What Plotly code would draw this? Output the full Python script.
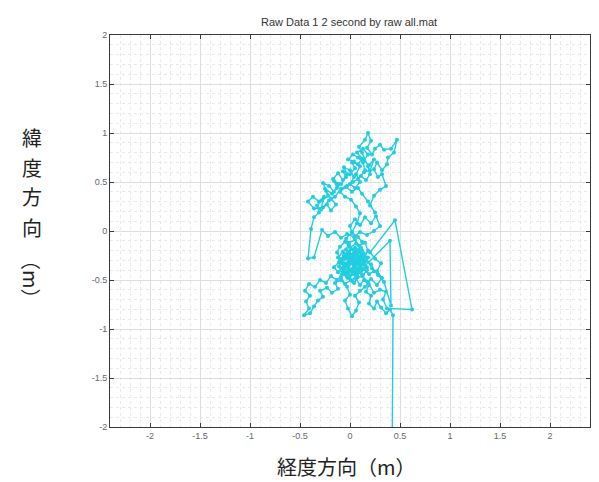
import plotly.graph_objects as go

# ---- data (metres, east / north) ----
east_start = [0.42, 0.43, 0.40, 0.36, 0.31, 0.27, 0.24, 0.19, 0.21, 0.16, 0.19, 0.14, 0.10, 0.06, 0.09, 0.03, -0.02, 0.01, -0.05, -0.09,
              -0.06, -0.01, 0.05, 0.10, 0.13, 0.07, 0.01, -0.04, -0.01, 0.05, 0.09, 0.15, 0.18, 0.13, 0.17, 0.11, 0.05, -0.01]
north_start = [-2.50, -0.86, -0.80, -0.84, -0.78, -0.72, -0.79, -0.74, -0.66, -0.62, -0.55, -0.50, -0.55, -0.49, -0.42, -0.38, -0.43, -0.50, -0.54, -0.47,
               -0.39, -0.33, -0.29, -0.33, -0.26, -0.20, -0.24, -0.19, -0.12, -0.09, -0.15, -0.12, -0.20, -0.30, -0.37, -0.41, -0.36, -0.40]

east_sw = [-0.07, -0.13, -0.19, -0.24, -0.30, -0.35, -0.41, -0.45, -0.40, -0.44, -0.41, -0.46, -0.40, -0.36, -0.32, -0.27, -0.30, -0.23, -0.18, -0.12, -0.15, -0.09]
north_sw = [-0.44, -0.50, -0.46, -0.53, -0.50, -0.57, -0.54, -0.61, -0.66, -0.72, -0.79, -0.86, -0.84, -0.77, -0.71, -0.67, -0.61, -0.58, -0.63, -0.59, -0.53, -0.50]

east_s = [-0.03, 0.00, -0.05, -0.02, 0.02, 0.06, 0.09, 0.05, 0.10, 0.15]
north_s = [-0.57, -0.65, -0.71, -0.79, -0.87, -0.81, -0.73, -0.66, -0.61, -0.57]

east_e = [0.21, 0.27, 0.32, 0.27, 0.31, 0.25, 0.20, 0.45, 0.62, 0.37, 0.33, 0.36, 0.30, 0.24]
north_e = [-0.49, -0.55, -0.48, -0.41, -0.33, -0.28, -0.22, 0.11, -0.80, -0.79, -0.70, -0.62, -0.60, -0.63]

east_c = [0.18, 0.12, 0.07, 0.02, -0.04, -0.08, -0.12, -0.07, -0.02, 0.04, 0.08, 0.14, 0.11, 0.06, 0.00, -0.05, -0.10, -0.13, -0.09, -0.03,
          0.02, 0.08, 0.04, -0.02, -0.07, -0.03, 0.03, 0.09, 0.15, 0.21, 0.24, 0.19, 0.13, 0.07, 0.02, -0.03, 0.01, 0.07, 0.12]
north_c = [-0.52, -0.46, -0.40, -0.31, -0.28, -0.33, -0.27, -0.21, -0.26, -0.22, -0.27, -0.23, -0.17, -0.13, -0.17, -0.11, -0.16, -0.22, -0.29, -0.35,
           -0.42, -0.47, -0.53, -0.48, -0.41, -0.34, -0.30, -0.35, -0.31, -0.34, -0.41, -0.44, -0.39, -0.33, -0.27, -0.23, -0.18, -0.24, -0.20]

east_c2 = [0.00, 0.05, 0.10, 0.06, 0.01, -0.04, -0.08, -0.04, 0.02, 0.07, 0.12, 0.09, 0.04, -0.01, -0.06, -0.10, -0.06, -0.01, 0.05, 0.10,
           0.14, 0.10, 0.05, 0.00, -0.05, -0.02, 0.03, 0.08, 0.13, 0.17, 0.13, 0.08, 0.03, -0.02, -0.07, -0.11, -0.08, -0.03, 0.02, 0.06]
north_c2 = [-0.30, -0.34, -0.29, -0.25, -0.29, -0.33, -0.38, -0.43, -0.39, -0.43, -0.38, -0.32, -0.36, -0.31, -0.35, -0.30, -0.24, -0.28, -0.24, -0.26,
            -0.30, -0.36, -0.40, -0.46, -0.43, -0.37, -0.33, -0.39, -0.45, -0.40, -0.34, -0.30, -0.26, -0.22, -0.28, -0.36, -0.44, -0.47, -0.51, -0.45]

east_r = [0.40, 0.41, 0.34, 0.28, 0.22, 0.16, 0.10, 0.05, -0.01, -0.06, -0.11, -0.16, -0.12, -0.06, -0.01, 0.04, 0.09, 0.12, 0.08, 0.02]
north_r = [-0.10, -0.76, -0.52, -0.45, -0.38, -0.27, -0.22, -0.17, -0.21, -0.26, -0.32, -0.37, -0.42, -0.37, -0.29, -0.25, -0.19, -0.11, -0.06, -0.02]

east_w = [0.00, 0.05, 0.10, 0.15, 0.21, 0.26, 0.30, 0.24, 0.17, 0.10, 0.04, -0.03, -0.09, -0.15, -0.22, -0.28, -0.36, -0.42, -0.39, -0.36, -0.31]
north_w = [0.05, 0.12, 0.06, 0.14, 0.08, 0.15, 0.05, 0.00, -0.04, -0.01, -0.06, -0.03, -0.07, -0.01, -0.05, 0.01, -0.27, -0.28, 0.02, 0.14, 0.19]

east_u2 = [-0.33, -0.28, -0.22, -0.25, -0.18, -0.13, -0.16, -0.09, -0.04, -0.07, 0.00, 0.05, 0.02, 0.08, 0.12, 0.07, 0.13, 0.18, 0.14, 0.19,
           0.24, 0.20, 0.14, 0.08, 0.03, -0.03, -0.09, -0.15, -0.21, -0.27]
north_u2 = [0.26, 0.31, 0.36, 0.43, 0.38, 0.44, 0.51, 0.48, 0.55, 0.61, 0.58, 0.64, 0.70, 0.68, 0.74, 0.80, 0.84, 0.78, 0.72, 0.67,
            0.73, 0.62, 0.60, 0.53, 0.50, 0.46, 0.43, 0.35, 0.31, 0.24]

east_ul = [-0.36, -0.42, -0.37, -0.31, -0.26, -0.29, -0.23, -0.19, -0.14, -0.19, -0.24, -0.27, -0.21, -0.16, -0.12, -0.17, -0.12, -0.07, -0.03]
north_ul = [0.23, 0.30, 0.35, 0.30, 0.35, 0.22, 0.27, 0.21, 0.27, 0.33, 0.41, 0.49, 0.46, 0.40, 0.47, 0.53, 0.59, 0.52, 0.58]

east_u = [-0.06, 0.00, 0.04, 0.00, 0.05, 0.10, 0.06, 0.10, 0.04, -0.02, 0.03, 0.08, 0.13, 0.15, 0.11, 0.16, 0.20, 0.18, 0.12, 0.09,
          0.15, 0.18, 0.21, 0.17, 0.22, 0.25, 0.30, 0.34, 0.41, 0.47, 0.44, 0.38, 0.37, 0.32, 0.27, 0.24, 0.28, 0.32, 0.36, 0.30,
          0.24, 0.20, 0.25, 0.18, 0.12, 0.08, 0.02, -0.04, -0.10, -0.05, 0.01, 0.06, 0.10]
north_u = [0.65, 0.62, 0.55, 0.48, 0.44, 0.50, 0.58, 0.66, 0.71, 0.73, 0.78, 0.75, 0.70, 0.62, 0.56, 0.52, 0.58, 0.66, 0.80, 0.86,
           0.93, 1.00, 0.92, 0.85, 0.78, 0.84, 0.88, 0.83, 0.84, 0.93, 0.80, 0.75, 0.68, 0.62, 0.70, 0.63, 0.55, 0.58, 0.46, 0.42,
           0.36, 0.26, 0.19, 0.30, 0.38, 0.44, 0.40, 0.45, 0.40, 0.35, 0.32, 0.25, 0.18]

east_end = [0.07, 0.02, -0.04, -0.01, 0.05, 0.09, 0.04, -0.02, 0.03, 0.09, 0.14, 0.18, 0.11, 0.06]
north_end = [0.08, -0.01, -0.08, -0.15, -0.20, -0.27, -0.32, -0.37, -0.44, -0.38, -0.33, -0.27, -0.26, -0.32]

tick_vals = [-2, -1.5, -1, -0.5, 0, 0.5, 1, 1.5, 2]
tick_text = ["-2", "-1.5", "-1", "-0.5", "0", "0.5", "1", "1.5", "2"]

title_text = "Raw Data 1 2 second by raw all.mat"
xlabel_text = "経度方向（m）"
ylabel_chars = ["緯", "度", "方", "向"]
ylabel_unit = "（m）"

east = (east_start + east_sw + east_s + east_e + east_c + east_c2 + east_r + east_w
        + east_u2 + east_ul + east_u + east_end)
north = (north_start + north_sw + north_s + north_e + north_c + north_c2 + north_r + north_w
         + north_u2 + north_ul + north_u + north_end)

# ---- figure ----
W, H = 599, 482
L, R, T, B = 102, 17, 27, 63
pw, ph = W - L - R, H - T - B

def px_to_paper(px, py):
    return (px - L) / pw, (H - B - py) / ph

fig = go.Figure()
fig.add_trace(go.Scatter(
    x=east, y=north, mode="lines+markers",
    line=dict(color="#22cde0", width=1.4),
    marker=dict(color="#22cde0", size=4),
    showlegend=False, hoverinfo="skip", cliponaxis=True,
))

axis_common = dict(
    tickmode="array", tickvals=tick_vals, ticktext=tick_text,
    ticks="inside", ticklen=4, tickwidth=1, tickcolor="#3a3a3a",
    showline=True, linecolor="#3a3a3a", linewidth=1, mirror="ticks",
    showgrid=True, gridcolor="#dedede", gridwidth=1,
    zeroline=False,
    tickfont=dict(family="Liberation Sans", size=9, color="#666666"),
    minor=dict(dtick=0.1, tick0=0, showgrid=True, gridcolor="#e9e9e9", griddash="dot", gridwidth=1, ticks=""),
)

fig.update_xaxes(range=[-2.4, 2.4], **axis_common)
fig.update_yaxes(range=[-2.0, 2.0], **axis_common)

annotations = []
tx, ty = px_to_paper(341, 14)
annotations.append(dict(text=title_text, x=tx, y=ty, xref="paper", yref="paper", showarrow=False,
                        font=dict(family="Liberation Sans", size=11, color="#333333"), xanchor="center", yanchor="middle"))
lx, ly = px_to_paper(338, 458)
annotations.append(dict(text=xlabel_text, x=lx, y=ly, xref="paper", yref="paper", showarrow=False,
                        font=dict(family="Noto Sans CJK JP", size=20, color="#222222"), xanchor="center", yanchor="middle"))
for i, ch in enumerate(ylabel_chars):
    cx, cy = px_to_paper(24, 129 + i * 30)
    annotations.append(dict(text=ch, x=cx, y=cy, xref="paper", yref="paper", showarrow=False,
                            font=dict(family="Noto Sans CJK JP", size=20, color="#222222"), xanchor="center", yanchor="middle"))
ux, uy = px_to_paper(24, 271)
annotations.append(dict(text=ylabel_unit, x=ux, y=uy, xref="paper", yref="paper", showarrow=False, textangle=90,
                        font=dict(family="Noto Sans CJK JP", size=20, color="#222222"), xanchor="center", yanchor="middle"))

fig.update_layout(
    width=W, height=H,
    margin=dict(l=L, r=R, t=T, b=B, pad=0),
    paper_bgcolor="white", plot_bgcolor="white",
    annotations=annotations,
)

fig.write_html("out.html")
